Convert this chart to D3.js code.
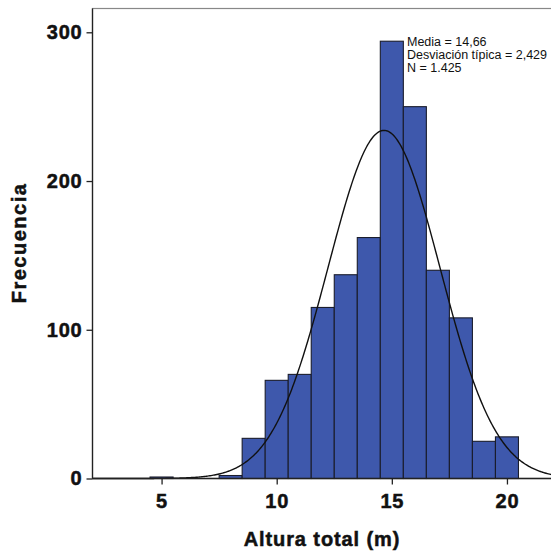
<!DOCTYPE html>
<html>
<head>
<meta charset="utf-8">
<script src="https://cdn.jsdelivr.net/npm/d3@7"></script>
<style>
  body { margin: 0; background: #fff; }
  svg { display: block; font-family: "Liberation Sans", Arial, sans-serif; }
</style>
</head>
<body>
<script>
// histogram bins (width 1, centred on the integer)
const binCenters = [5, 8, 9, 10, 11, 12, 13, 14, 15, 16, 17, 18, 19, 20];
const counts     = [1, 2, 27, 66, 70, 115, 137, 162, 294, 250, 140, 108, 25, 28];
const binWidth = 1;

const xTicks = [5, 10, 15, 20];
const yTicks = [0, 100, 200, 300];

const mean = 14.66, sd = 2.429, n = 1425;
const statLines = ['Media = 14,66', 'Desviación típica = 2,429', 'N = 1.425'];

const width = 551, height = 556;
const plot = { left: 92.5, right: 553, top: 8.5, bottom: 478.5 };

const x = d3.scaleLinear().domain([2, 22]).range([plot.left, plot.right]);
const y = d3.scaleLinear().domain([0, 316]).range([plot.bottom, plot.top]);

const svg = d3.select('body').append('svg')
  .attr('width', width)
  .attr('height', height);

// plot frame
svg.append('rect')
  .attr('x', plot.left).attr('y', plot.top)
  .attr('width', plot.right - plot.left).attr('height', plot.bottom - plot.top)
  .attr('fill', 'none').attr('stroke', '#888').attr('stroke-width', 1.2);

// bars
svg.append('g').selectAll('rect')
  .data(binCenters)
  .enter().append('rect')
  .attr('x', (d) => x(d - binWidth / 2))
  .attr('width', (d) => x(d + binWidth / 2) - x(d - binWidth / 2))
  .attr('y', (d, i) => y(counts[i]))
  .attr('height', (d, i) => y(0) - y(counts[i]))
  .attr('fill', '#3e58ac')
  .attr('stroke', '#1a1d2c')
  .attr('stroke-width', 1.1);

// normal curve from the stated mean / sd
const pdf = (v) => Math.exp(-0.5 * Math.pow((v - mean) / sd, 2)) / (sd * Math.sqrt(2 * Math.PI));
const curveXs = d3.range(2, 22.01, 0.05);
svg.append('path')
  .datum(curveXs)
  .attr('fill', 'none')
  .attr('stroke', '#111')
  .attr('stroke-width', 1.4)
  .attr('d', d3.line()
    .x((d) => x(d))
    .y((d) => y(n * binWidth * pdf(d))));

// axes
const xAxis = d3.axisBottom(x).tickValues(xTicks).tickSize(6).tickPadding(9),
      yAxis = d3.axisLeft(y).tickValues(yTicks).tickSize(6).tickPadding(4);

const gx = svg.append('g')
  .attr('transform', 'translate(0,' + plot.bottom + ')')
  .call(xAxis);
gx.select('.domain').attr('d', 'M' + plot.left + ',0H' + plot.right);

const gy = svg.append('g')
  .attr('transform', 'translate(' + plot.left + ',0)')
  .call(yAxis);
gy.select('.domain').attr('d', 'M0,' + plot.top + 'V' + plot.bottom);

svg.selectAll('.domain, .tick line').attr('stroke', '#222').attr('stroke-width', 1.3);
svg.selectAll('.tick text')
  .attr('fill', '#111')
  .attr('stroke', '#111')
  .attr('stroke-width', 0.5)
  .style('font-size', '20px')
  .style('font-weight', 'bold')
  .style('letter-spacing', '0.8px');

// stats annotation
svg.append('text')
  .attr('x', 407)
  .attr('y', 46)
  .style('font-size', '12.5px')
  .attr('fill', '#111')
  .selectAll('tspan')
  .data(statLines)
  .enter().append('tspan')
  .attr('x', 407)
  .attr('dy', (d, i) => i === 0 ? 0 : 12.8)
  .text((d) => d);

// axis titles
svg.append('text')
  .attr('x', 322)
  .attr('y', 546)
  .attr('text-anchor', 'middle')
  .style('font-size', '20px')
  .style('font-weight', 'bold')
  .style('letter-spacing', '0.9px')
  .attr('fill', '#111')
  .attr('stroke', '#111')
  .attr('stroke-width', 0.5)
  .text('Altura total (m)');

svg.append('text')
  .attr('transform', 'translate(26,243) rotate(-90)')
  .attr('text-anchor', 'middle')
  .style('font-size', '20px')
  .style('font-weight', 'bold')
  .style('letter-spacing', '1.5px')
  .attr('fill', '#111')
  .attr('stroke', '#111')
  .attr('stroke-width', 0.5)
  .text('Frecuencia');
</script>
</body>
</html>
